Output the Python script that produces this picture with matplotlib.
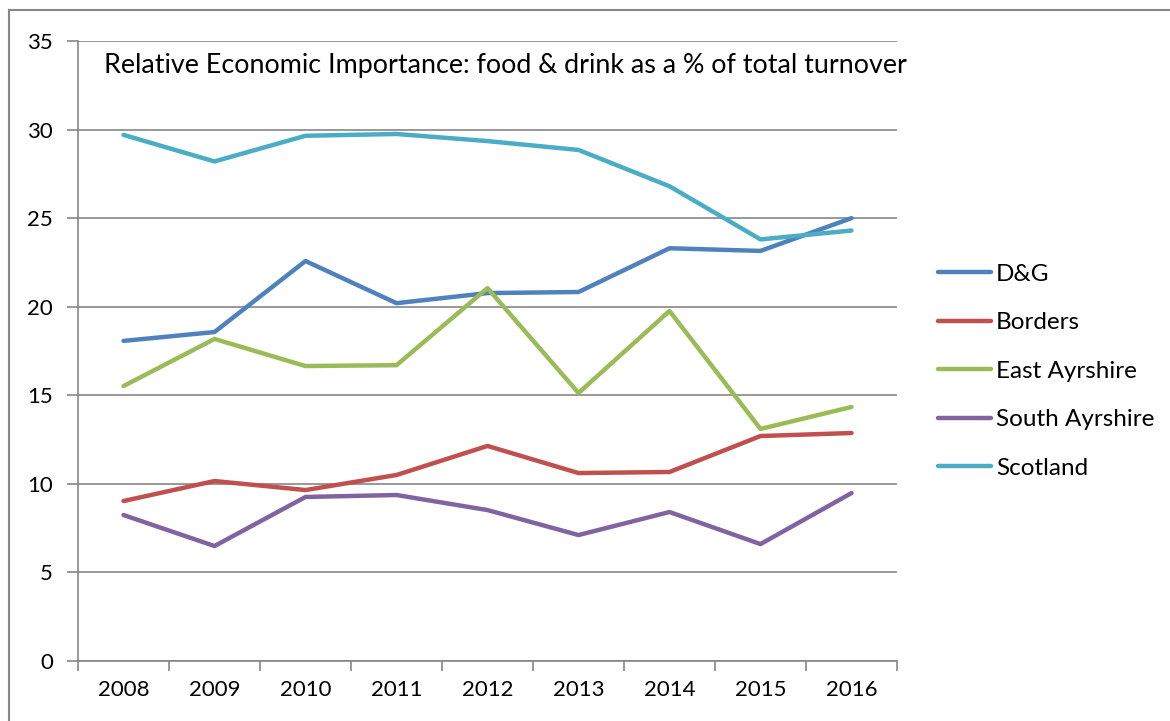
import matplotlib
matplotlib.use("Agg")
import matplotlib.pyplot as plt
from matplotlib.patches import Rectangle

years = ["2008", "2009", "2010", "2011", "2012", "2013", "2014", "2015", "2016"]
dg = [18.07, 18.57, 22.58, 20.2, 20.77, 20.83, 23.3, 23.15, 25.0]
borders = [9.03, 10.16, 9.65, 10.5, 12.14, 10.61, 10.67, 12.7, 12.87]
east_ayr = [15.52, 18.18, 16.65, 16.7, 21.05, 15.13, 19.76, 13.1, 14.34]
south_ayr = [8.24, 6.49, 9.26, 9.37, 8.52, 7.11, 8.41, 6.6, 9.48]
scotland = [29.7, 28.2, 29.65, 29.75, 29.35, 28.85, 26.8, 23.8, 24.3]

names = ["D&G", "Borders", "East Ayrshire", "South Ayrshire", "Scotland"]
series = [dg, borders, east_ayr, south_ayr, scotland]
colors = ["#4F81BD", "#C0504D", "#9BBB59", "#8064A2", "#4BACC6"]

plt.rcParams['font.family'] = ['Lato', 'DejaVu Sans']

fig = plt.figure(figsize=(11.7, 7.21), dpi=100)
ax = fig.add_axes([78/1170, 1-661/721, (897-78)/1170, 620/721])

# outer chart frame
fig.patches.append(Rectangle((9/1170, -0.1), 1.2, 1-10/721+0.1, transform=fig.transFigure,
                             fill=False, edgecolor='#868686', linewidth=1.5))

x = list(range(len(years)))
for name, vals, c in zip(names, series, colors):
    ax.plot(x, vals, color=c, linewidth=3.2, label=name, solid_capstyle='round')

ax.set_xlim(-0.5, len(years) - 0.5)
ax.set_ylim(0, 35)
ax.set_yticks(range(0, 36, 5))
ax.set_xticks(x)
ax.set_xticklabels(years)
ax.set_xticks([i - 0.5 for i in range(len(years) + 1)], minor=True)
ax.tick_params(axis='x', which='major', length=0, labelsize=16, pad=14)
ax.tick_params(axis='x', which='minor', length=7, color='#868686', width=1.2)
ax.tick_params(axis='y', length=8, color='#868686', width=1.2, labelsize=16, pad=10)
ax.grid(axis='y', color='#868686', linewidth=1.2)
for s in ['top', 'right']:
    ax.spines[s].set_visible(False)
for s in ['left', 'bottom']:
    ax.spines[s].set_color('#868686')
    ax.spines[s].set_linewidth(1.2)

ax.text(0.032, 0.96, "Relative Economic Importance: food & drink as a % of total turnover",
        transform=ax.transAxes, fontsize=19.4, va='center', ha='left')

leg = fig.legend(loc='upper left', bbox_to_anchor=(916/1170, 1-242/721), frameon=False,
                 fontsize=17.5, handlelength=2.2, handletextpad=0.2, labelspacing=1.13)

fig.savefig("out.png", dpi=100)
